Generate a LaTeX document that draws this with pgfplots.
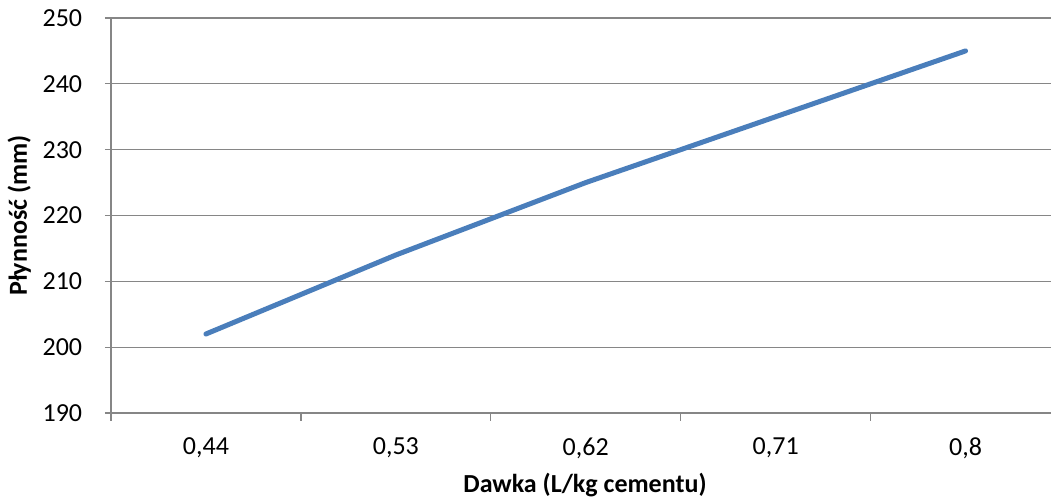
\documentclass[border=0pt]{standalone}
\usepackage{pgfplots}
\pgfplotsset{compat=1.18}
\usepackage{fontspec}
\setmainfont{Carlito}
\definecolor{linecol}{HTML}{4A7EBB}
\definecolor{axcol}{HTML}{868686}
\begin{document}
\fontsize{26}{30}\selectfont
\begin{tikzpicture}
\begin{axis}[
  scale only axis,
  width=940pt, height=395pt,
  xmin=-0.5, xmax=4.45,
  ymin=190, ymax=250,
  ytick={190,200,...,250},
  xtick={0,1,2,3,4},
  xticklabels={{0,44},{0,53},{0,62},{0,71},{0,8}},
  minor xtick={-0.5,0.5,1.5,2.5,3.5},
  major x tick style={draw=none},
  minor x tick style={draw=axcol, line width=1.2pt},
  minor tick length=8pt,
  major tick length=6pt,
  tick align=outside,
  y tick style={draw=axcol, line width=1.2pt},
  axis x line*=bottom,
  axis y line*=left,
  axis line style={draw=axcol, line width=1.5pt},
  x axis line style={-},
  y axis line style={-},
  ymajorgrids,
  major grid style={draw=axcol, line width=1.2pt},
  /pgf/number format/assume math mode=true,
  tick label style={font=\fontsize{26}{30}\selectfont},
  xticklabel style={yshift=-10pt},
  yticklabel style={xshift=-14pt},
  xlabel={\textbf{Dawka (L/kg cementu)}},
  ylabel={\textbf{Płynność (mm)}},
  label style={font=\fontsize{26}{30}\selectfont},
  xlabel style={yshift=3pt, xshift=4pt},
  ylabel style={yshift=-6pt},
  clip=false,
]
\addplot[color=linecol, line width=5pt, line cap=round, line join=round] coordinates {
  (0,202) (1,214) (2,225) (3,235) (4,245)
};
\end{axis}
\pgfresetboundingbox
\path ([shift={(-111pt,-88pt)}]current axis.south west) rectangle ([shift={(0pt,18pt)}]current axis.north east);
\end{tikzpicture}
\end{document}
